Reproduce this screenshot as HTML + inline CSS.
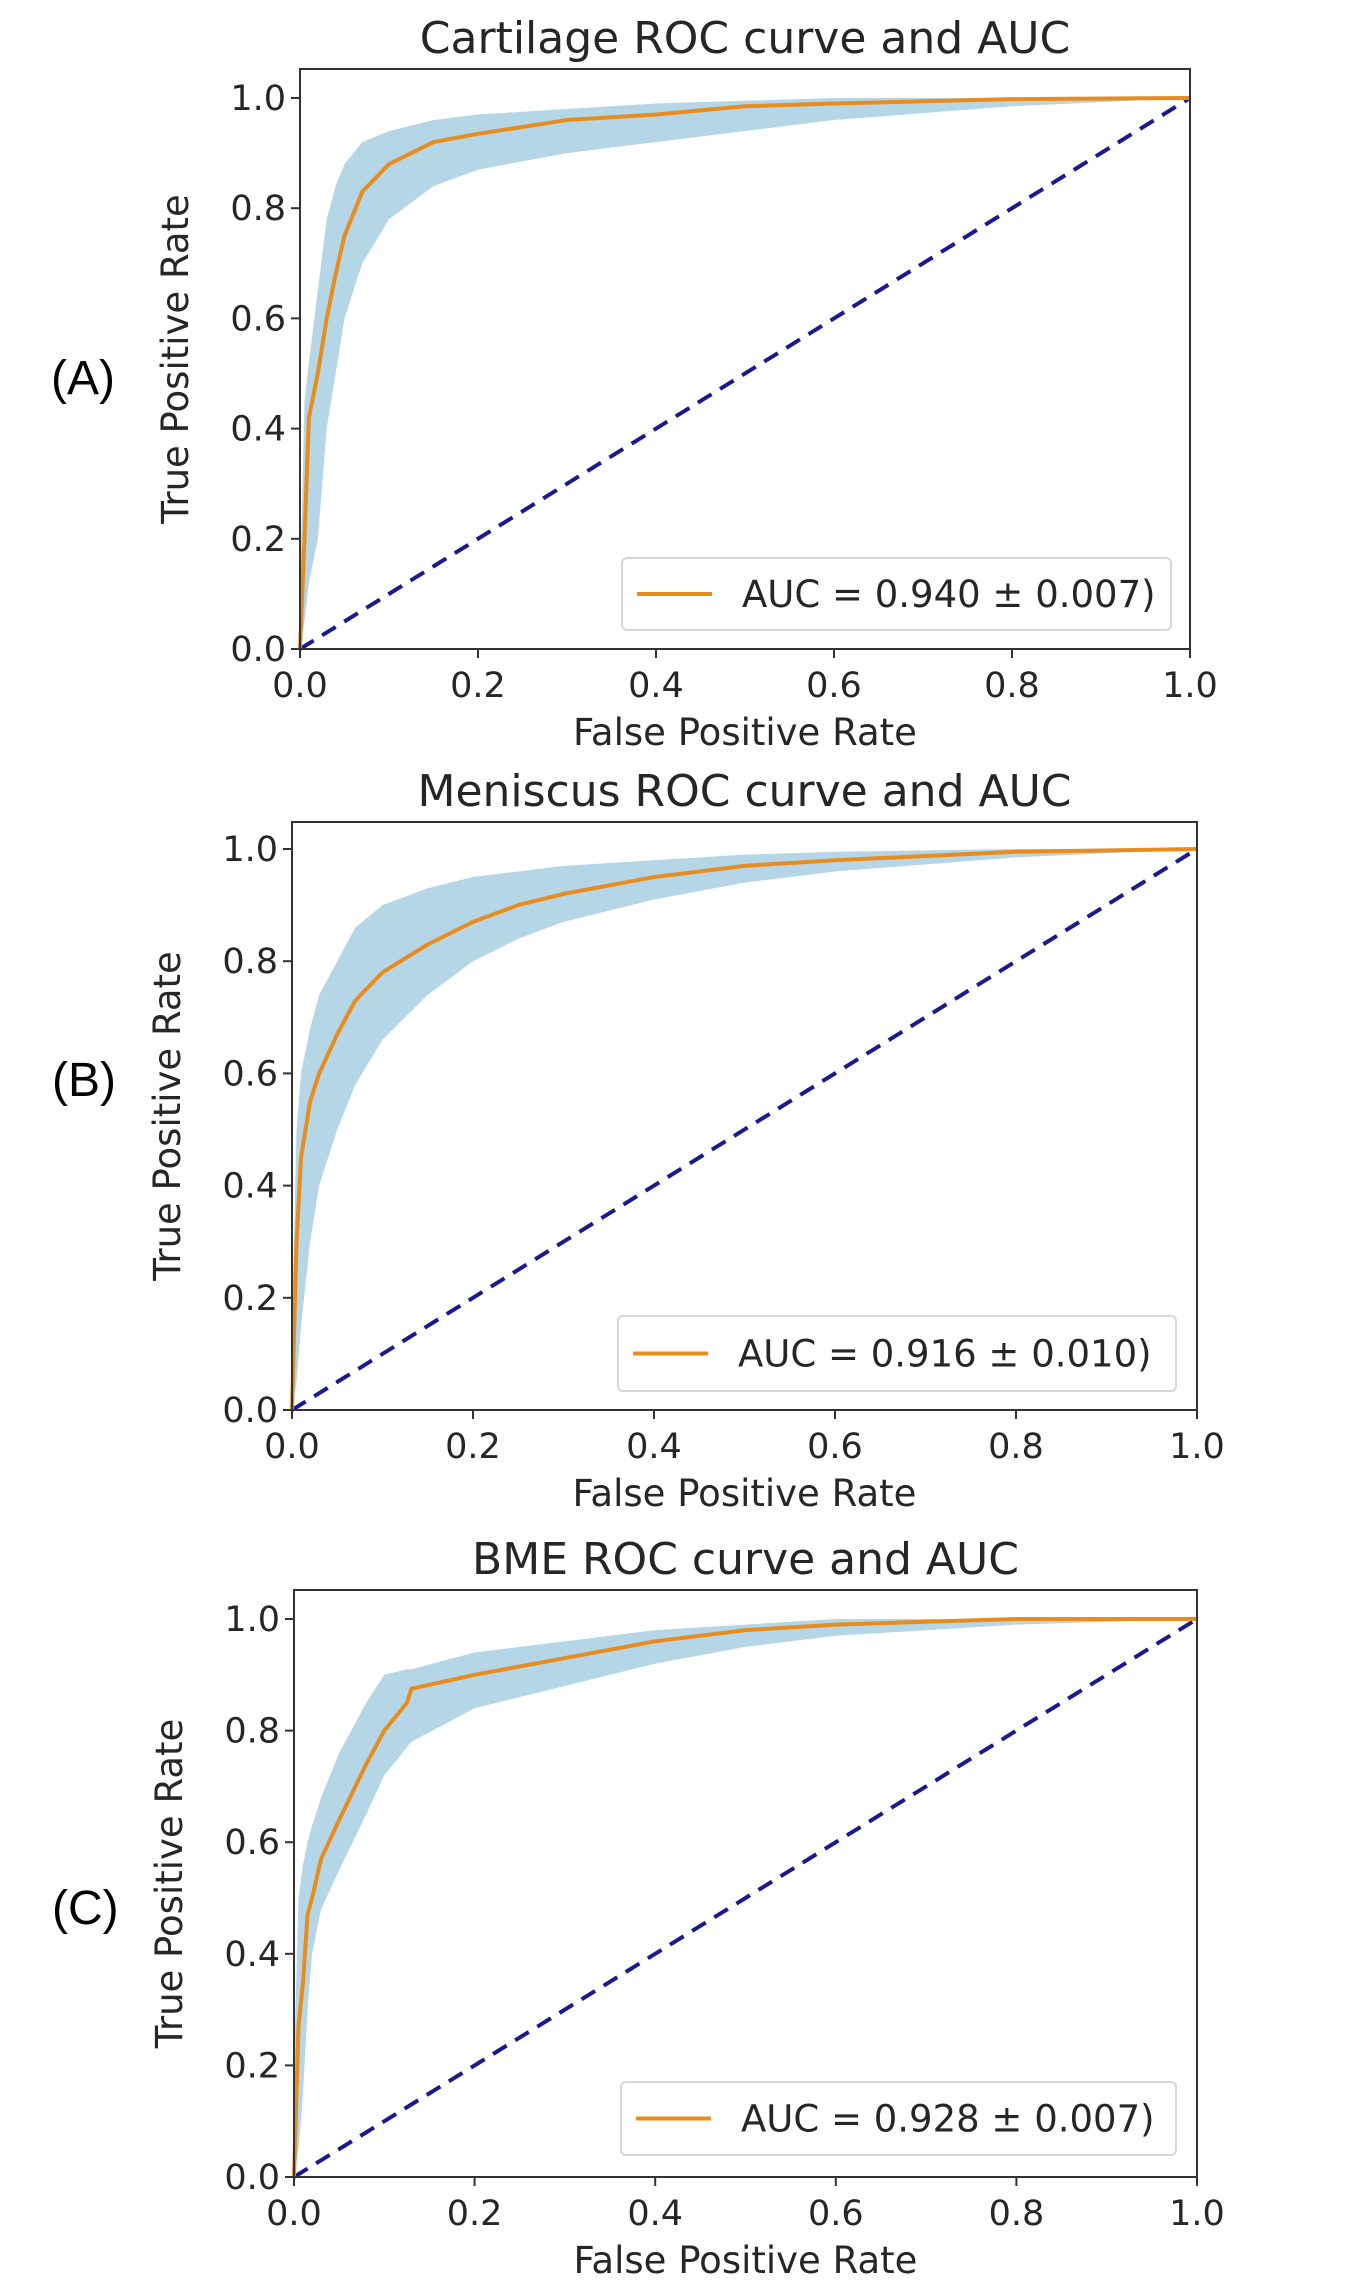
<!DOCTYPE html>
<html><head><meta charset="utf-8">
<style>
html,body{margin:0;padding:0;background:#fff;}
svg{display:block;}
text{font-family:"DejaVu Sans","Liberation Sans",sans-serif;fill:#262626;}
.lab{font-family:"Liberation Sans",sans-serif;fill:#000;}
</style></head>
<body>
<svg id="fig" width="1350" height="2295" viewBox="0 0 1350 2295" xmlns="http://www.w3.org/2000/svg"></svg>
<script>
// Chart A - Cartilage
const fprA = [0,0.005,0.01,0.02,0.03,0.04,0.05,0.07,0.1,0.15,0.2,0.3,0.4,0.5,0.6,0.8,1];
const tprA = [0,0.2,0.42,0.5,0.6,0.68,0.75,0.83,0.88,0.92,0.935,0.96,0.97,0.985,0.99,0.998,1];
const upA  = [0.1,0.45,0.52,0.65,0.78,0.84,0.88,0.92,0.94,0.96,0.97,0.98,0.99,0.995,1,1,1];
const loA  = [0,0.05,0.12,0.2,0.4,0.5,0.6,0.7,0.78,0.84,0.87,0.9,0.92,0.94,0.96,0.985,1];
// Chart B - Meniscus
const fprB = [0,0.005,0.01,0.02,0.03,0.05,0.07,0.1,0.15,0.2,0.25,0.3,0.4,0.5,0.6,0.8,1];
const tprB = [0,0.3,0.45,0.55,0.6,0.67,0.73,0.78,0.83,0.87,0.9,0.92,0.95,0.97,0.98,0.995,1];
const upB  = [0.15,0.5,0.6,0.68,0.74,0.8,0.86,0.9,0.93,0.95,0.96,0.97,0.98,0.99,0.995,1,1];
const loB  = [0,0.05,0.15,0.3,0.4,0.5,0.58,0.66,0.74,0.8,0.84,0.87,0.91,0.94,0.96,0.985,1];
// Chart C - BME
const fprC = [0,0.005,0.01,0.015,0.02,0.03,0.05,0.08,0.1,0.125,0.13,0.2,0.3,0.4,0.5,0.6,0.8,1];
const tprC = [0,0.27,0.35,0.47,0.5,0.57,0.64,0.74,0.8,0.85,0.875,0.9,0.93,0.96,0.98,0.99,1,1];
const upC  = [0.2,0.5,0.56,0.6,0.63,0.68,0.76,0.85,0.9,0.91,0.91,0.94,0.96,0.98,0.99,1,1,1];
const loC  = [0,0.05,0.15,0.3,0.4,0.48,0.55,0.65,0.72,0.77,0.78,0.84,0.88,0.92,0.95,0.97,0.99,1];
const ticks = [0,0.2,0.4,0.6,0.8,1.0];
const tickLabels = ["0.0","0.2","0.4","0.6","0.8","1.0"];
const titles = ["Cartilage ROC curve and AUC","Meniscus ROC curve and AUC","BME ROC curve and AUC"];
const legends = ["AUC = 0.940 \u00b1 0.007)","AUC = 0.916 \u00b1 0.010)","AUC = 0.928 \u00b1 0.007)"];
const panelLabels = ["(A)","(B)","(C)"];

const NS="http://www.w3.org/2000/svg";
const fig=document.getElementById('fig');
function mk(tag,attrs,parent,txt){const e=document.createElementNS(NS,tag);for(const k in attrs)e.setAttribute(k,attrs[k]);if(txt!==undefined)e.textContent=txt;(parent||fig).appendChild(e);return e;}

const panels=[
 {key:'a',fpr:fprA,tpr:tprA,up:upA,lo:loA,L:300,R:1190,T:69,Y1:98,B:649,leg:[622,558,549,72],lab:[51,378]},
 {key:'b',fpr:fprB,tpr:tprB,up:upB,lo:loB,L:292,R:1197,T:822,Y1:849,B:1410,leg:[618,1316,558,75],lab:[52,1080]},
 {key:'c',fpr:fprC,tpr:tprC,up:upC,lo:loC,L:294,R:1197,T:1590,Y1:1619,B:2177,leg:[621,2082,555,73],lab:[52,1908]}
];

panels.forEach((p,i)=>{
  const g=mk('g',{});
  
  
  const xs=v=>p.L+v*(p.R-p.L);
  const ys=v=>p.B-v*(p.B-p.Y1);
  let d='M'+p.fpr.map((f,j)=>xs(f)+','+ys(p.up[j])).join(' L');
  for(let j=p.fpr.length-1;j>=0;j--) d+=' L'+xs(p.fpr[j])+','+ys(p.lo[j]);
  d+='Z';
  const band=mk('path',{d:d,fill:'#b5d6e6',stroke:'none'},g);
  
  
  const diag=mk('line',{x1:xs(0),y1:ys(0),x2:xs(1),y2:ys(1),stroke:'#1a1a8c','stroke-width':4,'stroke-dasharray':'16 10'},g);
  
  
  const pts=p.fpr.map((f,j)=>xs(f)+','+ys(p.tpr[j])).join(' ');
  const mean=mk('polyline',{points:pts,fill:'none',stroke:'#e88c1e','stroke-width':4,'stroke-linejoin':'round'},g);
  
  
  const fr=mk('rect',{x:p.L,y:p.T,width:p.R-p.L,height:p.B-p.T,fill:'none',stroke:'#333','stroke-width':2},g);
  
  
  ticks.forEach((t,k)=>{
    mk('line',{x1:xs(t),y1:p.B,x2:xs(t),y2:p.B+9,stroke:'#333','stroke-width':2},g);
    const xt=mk('text',{x:xs(t),y:p.B+48,'text-anchor':'middle','font-size':35},g,tickLabels[k]);
    
    
    mk('line',{x1:p.L-9,y1:ys(t),x2:p.L,y2:ys(t),stroke:'#333','stroke-width':2},g);
    const yt=mk('text',{x:p.L-14,y:ys(t)+12,'text-anchor':'end','font-size':35},g,tickLabels[k]);
    
    
  });
  const tt=mk('text',{x:(p.L+p.R)/2,y:p.T-16,'text-anchor':'middle','font-size':44},g,titles[i]);
  
  
  const xl=mk('text',{x:(p.L+p.R)/2,y:p.B+96,'text-anchor':'middle','font-size':37},g,'False Positive Rate');
  
  
  const cy=(p.T+p.B)/2, cx=p.L-112;
  const yl=mk('text',{x:cx,y:cy,'text-anchor':'middle','font-size':37,transform:'rotate(-90 '+cx+' '+cy+')'},g,'True Positive Rate');
  
  
  const lg=mk('g',{},g);
  
  
  const [lx,ly,lw,lh]=p.leg;
  mk('rect',{x:lx,y:ly,width:lw,height:lh,rx:5,fill:'#fff',stroke:'#d6d6d6','stroke-width':2},lg);
  mk('line',{x1:lx+15,y1:ly+lh/2,x2:lx+90,y2:ly+lh/2,stroke:'#e88c1e','stroke-width':4},lg);
  const le=mk('text',{x:lx+120,y:ly+lh/2+13,'font-size':37},lg,legends[i]);
  
  
  const pl=mk('text',{x:p.lab[0],y:p.lab[1]+16,'font-size':48,'class':'lab'},fig,panelLabels[i]);
  
  
});
</script>
</body></html>
